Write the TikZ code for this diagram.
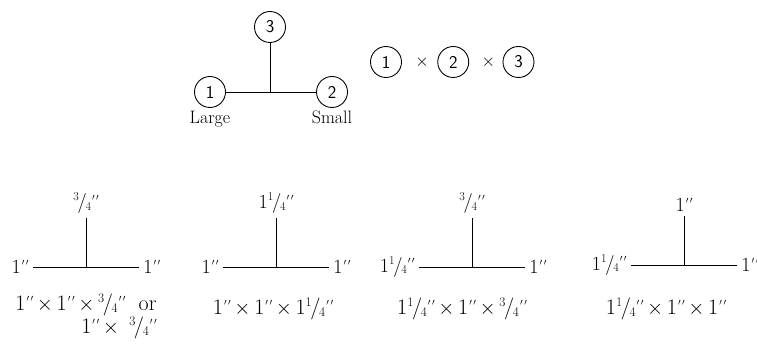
\documentclass[tikz,border=0pt]{standalone}
\usepackage{graphicx}
\usetikzlibrary{positioning}

\newcommand{\inch}{\kern.05em\raisebox{.42em}{\scalebox{.45}{$\prime\,\prime$}}}
\newcommand{\fr}[2]{\raisebox{.38em}{\scalebox{.6}{#1}}\kern-.06em/\kern-.06em\raisebox{-.08em}{\scalebox{.6}{#2}}}
\newcommand{\by}{\,$\times$\,}

\begin{document}
\begin{tikzpicture}[x=1pt, y=-1pt, line width=0.9pt, node distance=4pt,
  circ/.style={circle, draw, minimum size=31pt, inner sep=0pt, font=\sffamily\fontsize{18}{18}\selectfont},
  word/.style={inner sep=1pt, font=\fontsize{18}{20}\selectfont},
  lbl/.style={inner xsep=4pt, inner ysep=1pt, font=\fontsize{20}{22}\selectfont},
  toplbl/.style={inner xsep=1pt, inner ysep=4pt, font=\fontsize{20}{22}\selectfont},
  captxt/.style={inner sep=0pt, align=right, anchor=base, font=\fontsize{22}{19}\selectfont}]
\useasboundingbox (0,0) rectangle (757,344);

% the tree with the circled numbers
\node[circ] (c3) at (270,27) {3};
\node[circ] (c1) at (210,92) {1};
\node[circ] (c2) at (332,92) {2};
\coordinate (m) at (c1 -| c3);
\node[word] (large) [below=2pt of c1] {Large};
\node[word] (small) [below=2pt of c2] {Small};

\draw (c1) -- (c2);
\draw (c3) -- (m);

% 1 x 2 x 3
\node[circ] (r1) at (386,62) {1};
\node[inner sep=0pt, font=\fontsize{18}{18}\selectfont] (x1) [right=13pt of r1] {$\times$};
\node[circ] (r2) [right=8pt of x1] {2};
\node[inner sep=0pt, font=\fontsize{18}{18}\selectfont] (x2) [right=12pt of r2] {$\times$};
\node[circ] (r3) [right=7pt of x2] {3};

% the four trees
\foreach \i/\x/\y/\l/\r/\t/\cx/\cy/\c in {
  1/86/267/{1\inch}/{1\inch}/{\fr34\inch}/86/334/{1\inch\by1\inch\by\fr34\inch\ \ or\\1\inch\by\ \fr34\inch},
  2/276/267/{1\inch}/{1\inch}/{1\fr14\inch}/273/315/{1\inch\by1\inch\by1\fr14\inch},
  3/472/267/{1\fr14\inch}/{1\inch}/{\fr34\inch}/462/315/{1\fr14\inch\by1\inch\by\fr34\inch},
  4/684/265/{1\fr14\inch}/{1\inch}/{1\inch}/666/315/{1\fr14\inch\by1\inch\by1\inch}} {
  \coordinate (j\i) at (\x,\y);
  \node[lbl] (l\i) [left=53pt of j\i] {\l};
  \node[lbl] (r\i) [right=53pt of j\i] {\r};
  \node[toplbl] (t\i) [above=49pt of j\i] {\t};
  \node[captxt] (k\i) at (\cx,\cy) {\c};
  \draw (l\i) -- (r\i);
  \draw (j\i) -- (t\i);
}
\end{tikzpicture}
\end{document}
